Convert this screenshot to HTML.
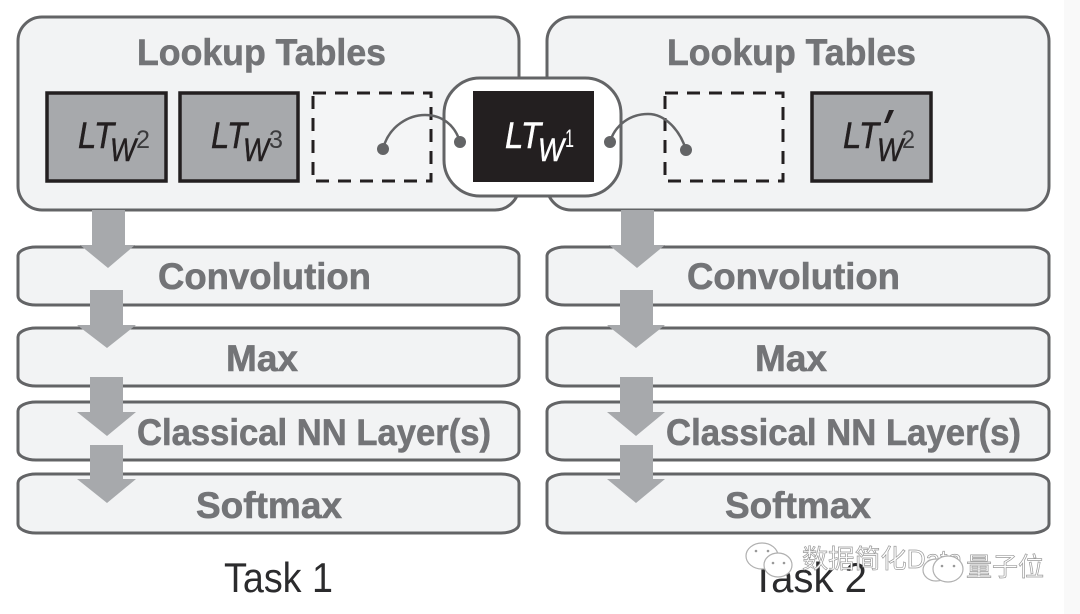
<!DOCTYPE html>
<html>
<head>
<meta charset="utf-8">
<style>
html,body{margin:0;padding:0;background:#fff}
svg{display:block}
text{font-family:"Liberation Sans","Noto Sans CJK SC",sans-serif}
.h{font-weight:bold;fill:#737477;stroke:#737477;stroke-width:.6;font-size:37px}
.box{fill:#f2f3f4;stroke:#636466;stroke-width:3}
.a{fill:#a7a9ac}
.lt{fill:#a7a9ac;stroke:#231f20;stroke-width:3.5}
.dash{fill:#f4f5f6;stroke:#231f20;stroke-width:3;stroke-dasharray:13 9}
.i{font-style:italic;font-size:37px;fill:#231f20;stroke:#231f20;stroke-width:.5}
.w{font-style:italic;font-size:32px;fill:#231f20;stroke:#231f20;stroke-width:.5}
.s{font-size:25px;fill:#3a3a3c}
.wm{font-size:26px;fill:#fff;stroke:#9a9a9a;stroke-width:.7}
</style>
</head>
<body>
<svg width="1080" height="614" viewBox="0 0 1080 614" xmlns="http://www.w3.org/2000/svg">
<rect width="1080" height="614" fill="#fff"/>
<rect x="1064" width="16" height="614" fill="#f9f9f9"/>

<!-- Column 1 boxes -->
<rect class="box" x="18" y="17" width="501" height="193" rx="24"/>
<rect class="box" x="18" y="247" width="501" height="58" rx="18" ry="9"/>
<rect class="box" x="18" y="328" width="501" height="58" rx="18" ry="9"/>
<rect class="box" x="18" y="402" width="501" height="58" rx="18" ry="9"/>
<rect class="box" x="18" y="474" width="501" height="59" rx="18" ry="9"/>

<!-- Column 2 boxes -->
<rect class="box" x="547" y="17" width="502" height="193" rx="24"/>
<rect class="box" x="547" y="247" width="502" height="58" rx="18" ry="9"/>
<rect class="box" x="547" y="328" width="502" height="58" rx="18" ry="9"/>
<rect class="box" x="547" y="402" width="502" height="58" rx="18" ry="9"/>
<rect class="box" x="547" y="474" width="502" height="59" rx="18" ry="9"/>

<!-- Arrows column 1 -->
<polygon class="a" points="92,210 125,210 125,245 135,245 108,268 80,245 92,245"/>
<polygon class="a" points="90,290 123,290 123,325 136,325 107,348 77,325 90,325"/>
<polygon class="a" points="90,377 123,377 123,412 136,412 107,436 77,412 90,412"/>
<polygon class="a" points="90,445 123,445 123,479 136,479 107,503 77,479 90,479"/>

<!-- Arrows column 2 -->
<polygon class="a" points="621,210 654,210 654,245 665,245 637,268 609,245 621,245"/>
<polygon class="a" points="620,290 653,290 653,325 665,325 636,348 607,325 620,325"/>
<polygon class="a" points="620,377 653,377 653,412 665,412 636,436 607,412 620,412"/>
<polygon class="a" points="620,445 653,445 653,479 665,479 636,503 607,479 620,479"/>

<!-- Headings -->
<text class="h" x="137" y="65" textLength="249" lengthAdjust="spacingAndGlyphs">Lookup Tables</text>
<text class="h" x="667" y="65" textLength="249" lengthAdjust="spacingAndGlyphs">Lookup Tables</text>
<text class="h" x="158" y="289" textLength="213" lengthAdjust="spacingAndGlyphs">Convolution</text>
<text class="h" x="687" y="289" textLength="213" lengthAdjust="spacingAndGlyphs">Convolution</text>
<text class="h" x="226" y="371" textLength="72" lengthAdjust="spacingAndGlyphs">Max</text>
<text class="h" x="755" y="371" textLength="72" lengthAdjust="spacingAndGlyphs">Max</text>
<text class="h" x="137" y="445" textLength="354" lengthAdjust="spacingAndGlyphs">Classical NN Layer(s)</text>
<text class="h" x="666" y="445" textLength="355" lengthAdjust="spacingAndGlyphs">Classical NN Layer(s)</text>
<text class="h" x="196" y="518" textLength="146" lengthAdjust="spacingAndGlyphs">Softmax</text>
<text class="h" x="725" y="518" textLength="146" lengthAdjust="spacingAndGlyphs">Softmax</text>

<!-- Lookup cells -->
<rect class="lt" x="47" y="93" width="119" height="88"/>
<text class="i" x="78" y="148" textLength="36" lengthAdjust="spacingAndGlyphs">LT</text>
<text class="w" x="110" y="161" textLength="26" lengthAdjust="spacingAndGlyphs">W</text>
<text class="s" x="136" y="148" textLength="14" lengthAdjust="spacingAndGlyphs">2</text>

<rect class="lt" x="180" y="93" width="118" height="88"/>
<text class="i" x="211" y="148" textLength="36" lengthAdjust="spacingAndGlyphs">LT</text>
<text class="w" x="243" y="161" textLength="26" lengthAdjust="spacingAndGlyphs">W</text>
<text class="s" x="269" y="148" textLength="14" lengthAdjust="spacingAndGlyphs">3</text>

<rect class="dash" x="313" y="93" width="118" height="88"/>
<rect class="dash" x="665" y="93" width="118" height="88"/>

<rect class="lt" x="812" y="93" width="119" height="88"/>
<text class="i" x="843" y="148" textLength="36" lengthAdjust="spacingAndGlyphs">LT</text>
<polygon points="889,110 894,110 888,123 884,123" fill="#231f20"/>
<text class="w" x="877" y="161" textLength="26" lengthAdjust="spacingAndGlyphs">W</text>
<text class="s" x="902" y="148" textLength="13" lengthAdjust="spacingAndGlyphs">2</text>

<!-- Center shared -->
<rect x="444" y="78" width="177" height="118" rx="36" fill="#fff" stroke="#636466" stroke-width="3"/>
<rect x="473" y="91" width="121" height="91" fill="#231f20"/>
<text class="i" x="505" y="148" textLength="36" lengthAdjust="spacingAndGlyphs" style="fill:#fff;stroke:#fff">LT</text>
<text class="w" x="538" y="161" textLength="26" lengthAdjust="spacingAndGlyphs" style="fill:#fff;stroke:#fff">W</text>
<text class="s" x="565" y="147" textLength="9" lengthAdjust="spacingAndGlyphs" style="fill:#fff">1</text>

<!-- Connectors -->
<path d="M383,149 C389,125 410,115 425,115 C442,115 455,125 460,142" fill="none" stroke="#636466" stroke-width="2.5"/>
<path d="M610,142 C615,125 630,114 648,114 C665,114 680,130 686,150" fill="none" stroke="#636466" stroke-width="2.5"/>
<circle cx="383" cy="149" r="6" fill="#636466"/>
<circle cx="460" cy="142" r="6" fill="#636466"/>
<circle cx="610" cy="142" r="6" fill="#636466"/>
<circle cx="686" cy="150" r="6" fill="#636466"/>

<!-- Task labels -->
<text x="224" y="592" font-size="42" fill="#2b2b2d" textLength="109" lengthAdjust="spacingAndGlyphs">Task 1</text>
<text x="751" y="592" font-size="42" fill="#2b2b2d" textLength="116" lengthAdjust="spacingAndGlyphs">Task 2</text>

<!-- Watermark -->
<text class="wm" x="802" y="568" textLength="160" lengthAdjust="spacingAndGlyphs">数据简化Data</text>
<g fill="#fff" stroke="#b0b0b0" stroke-width="1.2">
<ellipse cx="762" cy="556" rx="16" ry="13"/>
<ellipse cx="778" cy="565" rx="14" ry="12"/>
<ellipse cx="936" cy="570" rx="13" ry="11"/>
<ellipse cx="948" cy="569" rx="15" ry="13"/>
</g>
<g fill="#999">
<circle cx="756" cy="551" r="1.3"/><circle cx="768" cy="551" r="1.3"/>
<circle cx="773" cy="563" r="1.3"/><circle cx="784" cy="563" r="1.3"/>
<circle cx="942" cy="566" r="1.3"/><circle cx="954" cy="566" r="1.3"/>
</g>
<text class="wm" x="966" y="576" textLength="78" lengthAdjust="spacingAndGlyphs">量子位</text>
</svg>
</body>
</html>
